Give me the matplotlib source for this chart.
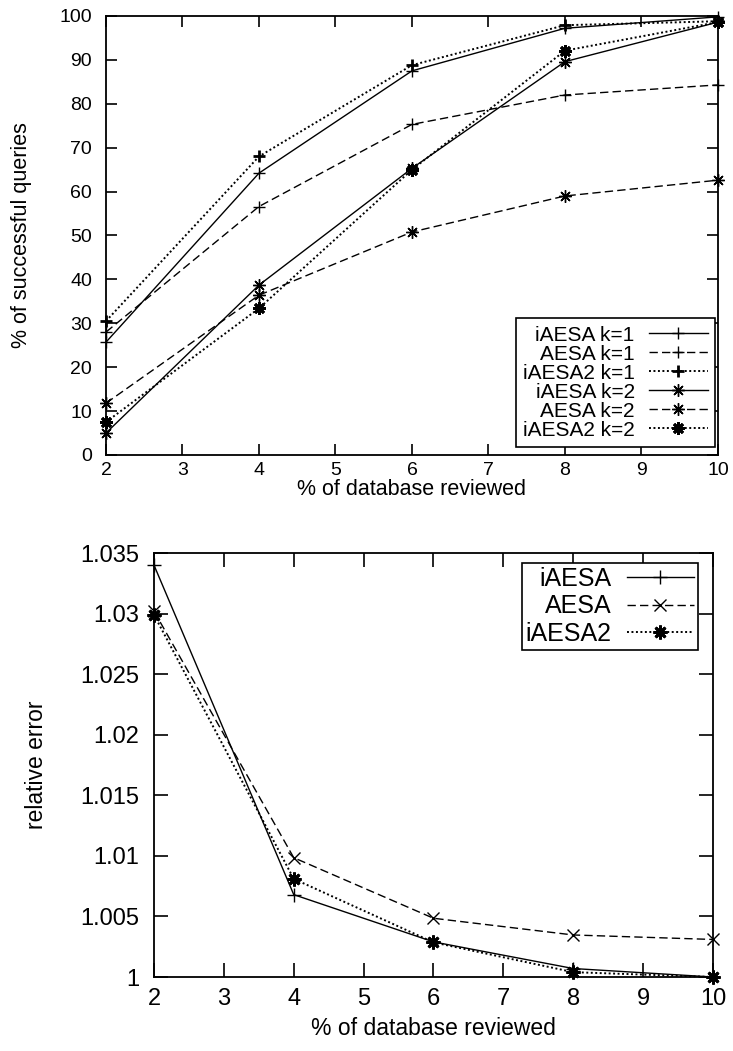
import matplotlib
matplotlib.use('Agg')
import matplotlib.pyplot as plt
from matplotlib.ticker import FuncFormatter, MultipleLocator

plt.rcParams['font.family'] = ['Liberation Sans', 'DejaVu Sans']

# data
pct = [2, 4, 6, 8, 10]

iaesa_k1 = [25.7, 64.2, 87.5, 97.2, 99.8]
aesa_k1 = [28.0, 56.6, 75.3, 82.0, 84.3]
iaesa2_k1 = [30.5, 68.0, 88.8, 97.9, 98.8]
iaesa_k2 = [5.0, 38.7, 65.3, 89.6, 98.6]
aesa_k2 = [11.8, 36.4, 50.8, 59.0, 62.6]
iaesa2_k2 = [7.5, 33.4, 65.0, 92.1, 98.6]

err_iaesa = [1.0340, 1.0068, 1.0029, 1.0007, 1.0000]
err_aesa = [1.0302, 1.00985, 1.00485, 1.00347, 1.0031]
err_iaesa2 = [1.0299, 1.0081, 1.00286, 1.0004, 1.0000]

ast = (8, 2, 0)   # gnuplot style asterisk
solid = dict(ls='-')
dashed = dict(ls=(0, (6, 3)))
dotted = dict(ls=(0, (1, 1.3)))

fig = plt.figure(figsize=(7.33, 10.51), dpi=100)

# ---- top chart
ax1 = fig.add_axes([0.1446, 0.5671, 0.8349, 0.4177])
ax1.plot(pct, iaesa_k1, color='k', lw=1, marker='+', ms=8, mew=1, clip_on=False, label='iAESA k=1', **solid)
ax1.plot(pct, aesa_k1, color='k', lw=1, marker='+', ms=8, mew=1, clip_on=False, label='AESA k=1', **dashed)
ax1.plot(pct, iaesa2_k1, color='k', lw=1.4, marker='+', ms=8, mew=2, clip_on=False, label='iAESA2 k=1', **dotted)
ax1.plot(pct, iaesa_k2, color='k', lw=1, marker=ast, ms=9, mew=1, clip_on=False, label='iAESA k=2', **solid)
ax1.plot(pct, aesa_k2, color='k', lw=1, marker=ast, ms=9, mew=1, clip_on=False, label='AESA k=2', **dashed)
ax1.plot(pct, iaesa2_k2, color='k', lw=1.4, marker=ast, ms=9, mew=2, clip_on=False, label='iAESA2 k=2', **dotted)
ax1.set_xlim(2, 10)
ax1.set_ylim(0, 100)
ax1.xaxis.set_major_locator(MultipleLocator(1))
ax1.yaxis.set_major_locator(MultipleLocator(10))
ax1.tick_params(direction='in', length=8, width=1.2, top=True, right=True, labelsize=14)
ax1.tick_params(axis='y', pad=10)
ax1.tick_params(axis='x', pad=5)
ax1.set_xlabel('% of database reviewed', fontsize=15.5, labelpad=0)
ax1.set_ylabel('% of successful queries', fontsize=15.5, labelpad=20)
leg1 = ax1.legend(loc='lower right', bbox_to_anchor=(0.995, 0.018), borderaxespad=0,
                  markerfirst=False, fontsize=15, handlelength=2.8, handletextpad=0.7,
                  labelspacing=0.0, borderpad=0.35, fancybox=False, framealpha=1,
                  edgecolor='k')
leg1.get_frame().set_linewidth(1.2)

# ---- bottom chart
ax2 = fig.add_axes([0.2101, 0.0704, 0.7626, 0.4034])
ax2.plot(pct, err_iaesa, color='k', lw=1, marker='+', ms=10, mew=1, clip_on=False, label='iAESA', **solid)
ax2.plot(pct, err_aesa, color='k', lw=1, marker='x', ms=9, mew=1, clip_on=False, label='AESA', **dashed)
ax2.plot(pct, err_iaesa2, color='k', lw=1.4, marker=ast, ms=10, mew=2, clip_on=False, label='iAESA2', **dotted)
ax2.set_xlim(2, 10)
ax2.set_ylim(1, 1.035)
ax2.xaxis.set_major_locator(MultipleLocator(1))
ax2.yaxis.set_major_locator(MultipleLocator(0.005))
ax2.yaxis.set_major_formatter(FuncFormatter(lambda v, p: '%g' % round(v, 4)))
ax2.tick_params(direction='in', length=10, width=1.2, top=True, right=True, labelsize=17)
ax2.tick_params(axis='y', pad=10.5)
ax2.tick_params(axis='x', pad=8)
ax2.set_xlabel('% of database reviewed', fontsize=16.5, labelpad=5)
ax2.set_ylabel('relative error', fontsize=16.5, labelpad=23)
leg2 = ax2.legend(loc='upper right', bbox_to_anchor=(0.973, 0.977), borderaxespad=0,
                  markerfirst=False, fontsize=18, handlelength=2.7, handletextpad=0.6,
                  labelspacing=0.15, borderpad=0.15, fancybox=False, framealpha=1,
                  edgecolor='k')
leg2.get_frame().set_linewidth(1.2)

for ax in (ax1, ax2):
    for s in ax.spines.values():
        s.set_linewidth(1.3)

fig.savefig('out.png', dpi=100)
